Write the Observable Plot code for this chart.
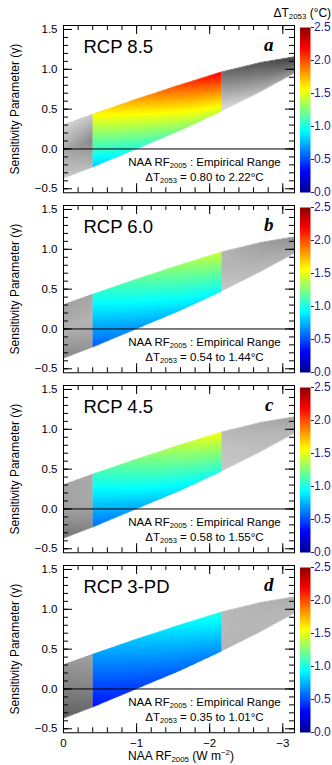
<!DOCTYPE html>
<html><head><meta charset="utf-8">
<script src="https://cdn.jsdelivr.net/npm/d3@7"></script>
<script src="https://cdn.jsdelivr.net/npm/@observablehq/plot@0.6"></script>
<style>
body{margin:0;background:#fff;}
#chart{position:relative;width:332px;height:765px;}
#chart svg{position:absolute;overflow:visible;background:none;}
</style></head><body><div id="chart"></div>
<script>
// ---- data ----
const panelLetters = ["a", "b", "c", "d"];
const scenarios = ["RCP 8.5", "RCP 6.0", "RCP 4.5", "RCP 3-PD"];
const dtLow = [0.80, 0.54, 0.58, 0.35];          // ΔT at bottom-left of empirical range
const dtHigh = [2.22, 1.44, 1.55, 1.01];         // ΔT at top-right of empirical range
const dtTopLeft = [1.58, 1.02, 1.08, 0.70];      // ΔT at top-left
const dtBottomRight = [1.45, 0.95, 1.02, 0.66];  // ΔT at bottom-right
const rangeRF = [-0.4, -2.16];                   // empirical NAA RF2005 range
const edgeRF = [0, -0.4, -1.0, -1.6, -2.16, -2.7, -3.16];
const edgeUpper = [0.31, 0.44, 0.63, 0.81, 0.97, 1.09, 1.16];
const edgeLower = [-0.37, -0.23, 0.0, 0.23, 0.47, 0.72, 0.95];
// gray levels (0-255) [bottom, middle, top] at the ends of the gray regions
const grayLeftOuter  = [[200,168,212],[135,175,160],[115,160,165],[95,125,150]];  // RF 0
const grayLeftInner  = [[185,135,200],[150,180,165],[135,170,170],[110,140,160]]; // RF -0.4
const grayRightInner = [[225,165,105],[200,185,180],[200,195,185],[180,185,185]]; // RF -2.16
const grayRightOuter = [[150,100,60],[175,160,140],[185,175,160],[185,180,170]];  // RF -3.16
const yTicks = [-0.5, 0, 0.5, 1, 1.5];
const xTicks = [0, -1, -2, -3];
const cbTicks = [0, 0.5, 1, 1.5, 2, 2.5];
const cbStops = [0, 0.3125, 0.9375, 1.5625, 2.1875, 2.5];
const cbColors = ["#00008c", "#0000ff", "#00ffff", "#ffff00", "#ff0000", "#8c0000"];

const xDomain = [0, -3.16], yDomain = [-0.55, 1.55];
const FONT = "'Liberation Sans', Arial, sans-serif";
const upperAt = d3.scaleLinear(edgeRF, edgeUpper);
const lowerAt = d3.scaleLinear(edgeRF, edgeLower);
function bandT(x, y) {
  const lo = lowerAt(x), hi = upperAt(x), t = (y - lo) / (hi - lo);
  return (t < 0 || t > 1) ? NaN : t;
}
function lerp3(a, t) { return t < 0.5 ? a[0] + (a[1] - a[0]) * t * 2 : a[1] + (a[2] - a[1]) * (t - 0.5) * 2; }
function dT(i, x, y) {
  if (x > rangeRF[0] || x < rangeRF[1]) return NaN;
  const t = bandT(x, y); if (isNaN(t)) return NaN;
  const u = (x - rangeRF[0]) / (rangeRF[1] - rangeRF[0]);
  const bot = dtLow[i] + u * (dtBottomRight[i] - dtLow[i]);
  const top = dtTopLeft[i] + u * (dtHigh[i] - dtTopLeft[i]);
  return bot + t * (top - bot);
}
function grayAlpha(i, x, y) {
  const t = bandT(x, y); if (isNaN(t)) return NaN;
  let g;
  if (x > rangeRF[0]) {
    const u = x / rangeRF[0];
    g = lerp3(grayLeftOuter[i], t) * (1 - u) + lerp3(grayLeftInner[i], t) * u;
  } else if (x < rangeRF[1]) {
    const u = (x - rangeRF[1]) / (xDomain[1] - rangeRF[1]);
    g = lerp3(grayRightInner[i], t) * (1 - u) + lerp3(grayRightOuter[i], t) * u;
  } else return NaN;
  return 1 - g / 255;
}

function richText(svg) {
  d3.select(svg).selectAll("text").each(function () {
    const nodes = this.querySelectorAll("tspan").length ? [...this.querySelectorAll("tspan")] : [this];
    for (const node of nodes) {
      const s = node.textContent;
      if (!/[_^]\{/.test(s)) continue;
      node.textContent = "";
      for (const p of s.split(/([_^]\{[^}]*\})/)) {
        if (!p) continue;
        const m = p.match(/^([_^])\{([^}]*)\}$/);
        const ts = document.createElementNS("http://www.w3.org/2000/svg", "tspan");
        if (m) {
          ts.textContent = m[2];
          ts.setAttribute("font-size", "0.66em");
          ts.setAttribute("baseline-shift", m[1] === "_" ? "-2px" : "5px");
        } else ts.textContent = p;
        node.appendChild(ts);
      }
    }
  });
}

const chart = document.getElementById("chart");
const W = 300, ML = 63, MR = 6, MT = 25;
const FW = W - ML - MR, FH = (yDomain[1] - yDomain[0]) * 79.65;
const xMinor = d3.range(0, -3.17, -0.2);
const yMinor = d3.range(-0.5, 1.51, 0.1);

for (let i = 0; i < 4; i++) {
  const last = i === 3;
  const H = last ? 225 : 197;
  const colorOpt = {type: "linear", domain: cbStops, range: cbColors};
  const note = `NAA RF_{2005} : Empirical Range\nΔT_{2053} = ${dtLow[i].toFixed(2)} to ${dtHigh[i].toFixed(2)}°C`;
  const main = Plot.plot({
    width: W, height: H,
    marginLeft: ML, marginRight: MR, marginTop: MT, marginBottom: H - MT - FH,
    style: {fontFamily: FONT, fontSize: "11.5px", overflow: "visible", background: "none"},
    x: {domain: xDomain, axis: null},
    y: {domain: yDomain, axis: null},
    color: colorOpt,
    opacity: {type: "identity"},
    marks: [
      Plot.raster({fill: (x, y) => dT(i, x, y), x1: xDomain[0], x2: xDomain[1], y1: yDomain[0], y2: yDomain[1], pixelSize: 0.5}),
      Plot.raster({fill: "black", fillOpacity: (x, y) => grayAlpha(i, x, y), x1: xDomain[0], x2: xDomain[1], y1: yDomain[0], y2: yDomain[1], pixelSize: 0.5}),
      Plot.ruleY([0], {stroke: "black", strokeWidth: 1}),
      Plot.tickY(yMinor, {insetRight: FW - 5, stroke: "black"}),
      Plot.tickY(yMinor, {insetLeft: FW - 5, stroke: "black"}),
      Plot.tickY(yTicks, {insetRight: FW - 9, stroke: "black"}),
      Plot.tickY(yTicks, {insetLeft: FW - 9, stroke: "black"}),
      Plot.tickX(xMinor, {insetTop: FH - 5, stroke: "black"}),
      Plot.tickX(xMinor, {insetBottom: FH - 5, stroke: "black"}),
      Plot.tickX(xTicks, {insetTop: FH - 9, stroke: "black"}),
      Plot.tickX(xTicks, {insetBottom: FH - 9, stroke: "black"}),
      Plot.frame({stroke: "black", strokeWidth: 1}),
      Plot.axisY(yTicks, {anchor: "left", tickSize: 0, tickPadding: 6, tickFormat: d3.format(".1f"), fontSize: 11.5}),
      last ? Plot.axisX(xTicks, {anchor: "bottom", tickSize: 0, tickPadding: 6, tickFormat: d3.format("d"), fontSize: 11.5}) : null,
      last ? Plot.text(["NAA RF_{2005} (W m^{−2})"], {frameAnchor: "bottom", dx: 2, dy: 23.4, lineAnchor: "middle", fontSize: 12}) : null,
      Plot.text(["Sensitivity Parameter (γ)"], {frameAnchor: "left", rotate: -90, dx: -48, textAnchor: "middle", lineAnchor: "middle", fontSize: 12}),
      Plot.text([scenarios[i]], {frameAnchor: "top-left", dx: 20, dy: 14, fontSize: 18.5}),
      Plot.text([panelLetters[i]], {frameAnchor: "top-right", dx: -21, dy: 11.5, fontSize: 19, fontFamily: "'Liberation Serif', serif", fontWeight: "bold", fontStyle: "italic"}),
      Plot.text([note], {frameAnchor: "bottom", dx: 25.5, dy: -24, lineAnchor: "middle", lineHeight: 1.26, fontSize: 11.5})
    ]
  });
  richText(main);
  main.style.left = "0px";
  main.style.top = (180 * i) + "px";
  chart.appendChild(main);

  const CW = 70, CL = 37.5, CR = 22, CT = 27, CB = H - 192;
  const cbar = Plot.plot({
    width: CW, height: H,
    marginLeft: CL, marginRight: CR, marginTop: CT, marginBottom: CB,
    style: {fontFamily: FONT, fontSize: "12px", overflow: "visible", background: "none"},
    x: {domain: [0, 1], axis: null},
    y: {domain: [0, 2.5], axis: null},
    color: colorOpt,
    marks: [
      Plot.raster({fill: (x, y) => y, x1: 0, x2: 1, y1: 0, y2: 2.5, pixelSize: 0.5}),
      Plot.axisY(cbTicks, {anchor: "right", tickSize: 3, tickPadding: 0.5, tickFormat: d3.format(".1f"), color: "#1c1c8c", fontSize: 12}),
      i === 0 ? Plot.text(["ΔT_{2053} (°C)"], {frameAnchor: "top", dx: -3, dy: -18.8, fontSize: 12}) : null
    ]
  });
  richText(cbar);
  cbar.style.left = "262px";
  cbar.style.top = (180 * i) + "px";
  chart.appendChild(cbar);
}
</script></body></html>
